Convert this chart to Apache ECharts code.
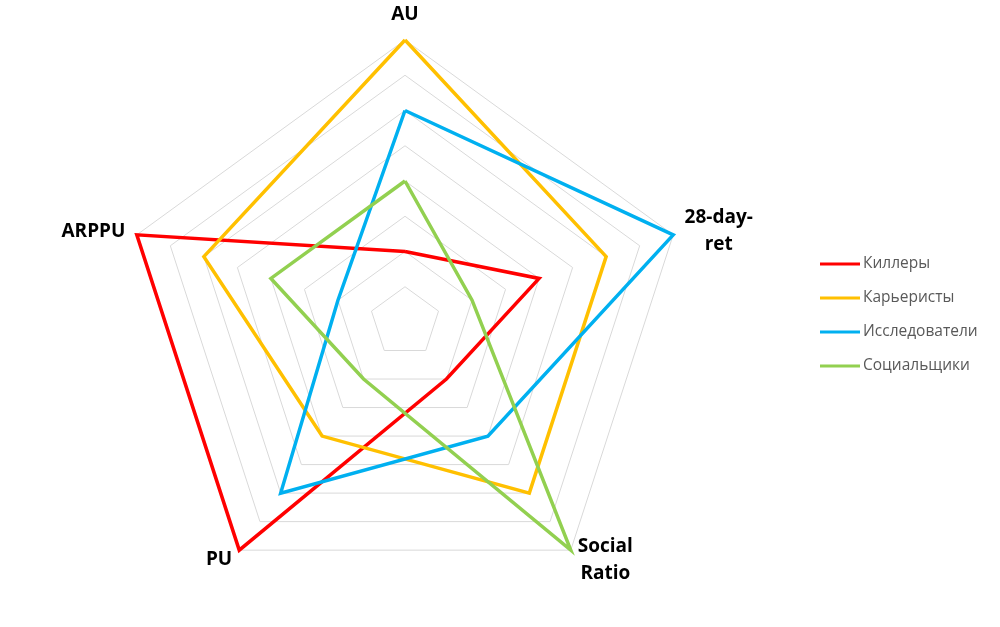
<!DOCTYPE html>
<html>
<head>
<meta charset="utf-8">
<script src="https://cdn.jsdelivr.net/npm/echarts@6/dist/echarts.min.js"></script>
<style>
  html, body { margin: 0; padding: 0; background: #fff; }
  #chart { width: 1000px; height: 627px; }
</style>
</head>
<body>
<div id="chart"></div>
<script>
// оси радара (по часовой стрелке от верха)
const indicators = ['AU', 'ARPPU', 'PU', 'Social\nRatio', '28-day-\nret'];
const maxValue = 8;

// серии (в порядке осей выше)
const seriesNames = ['Киллеры', 'Карьеристы', 'Исследователи', 'Социальщики'];
const killers = [2, 8, 8, 2, 4];
const careerists = [8, 6, 4, 6, 6];
const explorers = [6, 2, 6, 4, 8];
const socializers = [4, 4, 2, 8, 2];
const colors = ['#FF0000', '#FFC000', '#00B0F0', '#92D050'];

const seriesValues = [killers, careerists, explorers, socializers];

const mychart = echarts.init(document.getElementById('chart'));

const nameStyle = {
    color: '#000',
    fontFamily: 'Open Sans',
    fontWeight: 'bold',
    fontSize: 19,
    lineHeight: 27,
    align: 'center'
};

const option = {
    color: colors,
    animation: false,
    legend: {
        orient: 'vertical',
        left: 815,
        top: 249,
        icon: 'rect',
        itemWidth: 40,
        itemHeight: 3,
        itemGap: 14,
        textStyle: {
            fontFamily: 'Open Sans',
            fontSize: 15.5,
            color: '#595959',
            lineHeight: 20,
            padding: [0, 0, 0, -2]
        },
        data: seriesNames
    },
    radar: {
        center: [405, 322],
        radius: 282,
        startAngle: 90,
        splitNumber: 8,
        shape: 'polygon',
        indicator: indicators.map(n => ({ name: n, max: maxValue, min: 0 })),
        axisName: {
            color: '#000',
            fontFamily: 'Open Sans',
            fontWeight: 'bold',
            fontSize: 19,
            lineHeight: 27,
            //多行居中
            formatter: (name) => name.split('\n').map(s => '{c|' + s + '}').join('\n'),
            rich: { c: nameStyle }
        },
        nameGap: 12,
        axisLine: { show: false },
        splitArea: { show: false },
        splitLine: {
            lineStyle: { color: '#D9D9D9', width: 1 }
        }
    },
    series: [{
        type: 'radar',
        symbol: 'none',
        lineStyle: { width: 3.5 },
        data: seriesValues.map((v, i) => ({
            name: seriesNames[i],
            value: v,
            lineStyle: { color: colors[i], width: 3.5, join: 'miter' },
            itemStyle: { color: colors[i] }
        }))
    }]
};

mychart.setOption(option);
</script>
</body>
</html>
